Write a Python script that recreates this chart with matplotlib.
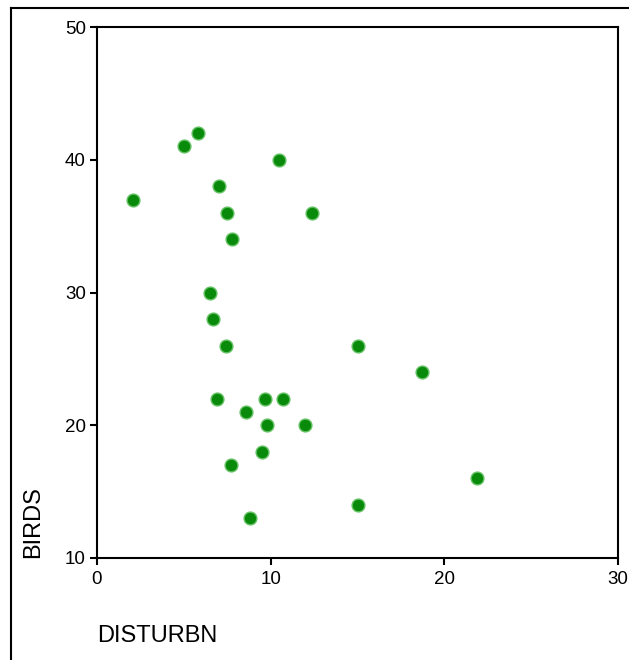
import matplotlib
matplotlib.use("Agg")
import matplotlib.pyplot as plt
from matplotlib.lines import Line2D

plt.rcParams['font.family'] = ['Liberation Sans', 'DejaVu Sans']

disturbn = [2.1, 5.0, 5.8, 7.0, 7.5, 7.8, 10.5, 12.4, 6.5, 6.7, 7.4, 15.0, 18.7,
            6.9, 9.7, 10.7, 8.6, 9.8, 12.0, 7.7, 9.5, 21.9, 15.0, 8.8]
birds = [37, 41, 42, 38, 36, 34, 40, 36, 30, 28, 26, 26, 24,
         22, 22, 22, 21, 20, 20, 17, 18, 16, 14, 13]

x_ticks = [0, 10, 20, 30]
y_ticks = [10, 20, 30, 40, 50]

W, H = 629, 660
fig = plt.figure(figsize=(W / 100, H / 100), dpi=100)

# outer frame (left and top visible, right/bottom cut off)
fx, fy = 10.5 / W, 1 - 7.5 / H
fig.add_artist(Line2D([fx, fx], [0, fy], transform=fig.transFigure,
                      color='black', linewidth=1.5))
fig.add_artist(Line2D([fx, 1.0], [fy, fy], transform=fig.transFigure,
                      color='black', linewidth=1.5))

left, right, top, bottom = 97, 618, 27, 558
ax = fig.add_axes([left / W, 1 - bottom / H, (right - left) / W, (bottom - top) / H])

ax.scatter(disturbn, birds, s=85, marker='o', facecolor='#0a8a0a',
           edgecolor='#66c266', linewidths=1.0, zorder=3)

ax.set_xlim(0, 30)
ax.set_ylim(10, 50)
ax.set_xticks(x_ticks)
ax.set_yticks(y_ticks)
ax.tick_params(direction='out', length=5, width=1.5, labelsize=13.5, pad=4)
ax.tick_params(axis='y', pad=3)
for sp in ax.spines.values():
    sp.set_linewidth(1.5)

fig.text(33 / W, 1 - 558 / H, 'BIRDS', rotation=90, fontsize=17,
         ha='center', va='bottom')
fig.text(97 / W, 1 - 636 / H, 'DISTURBN', fontsize=17, ha='left', va='center')

fig.savefig('out.png', dpi=100)
